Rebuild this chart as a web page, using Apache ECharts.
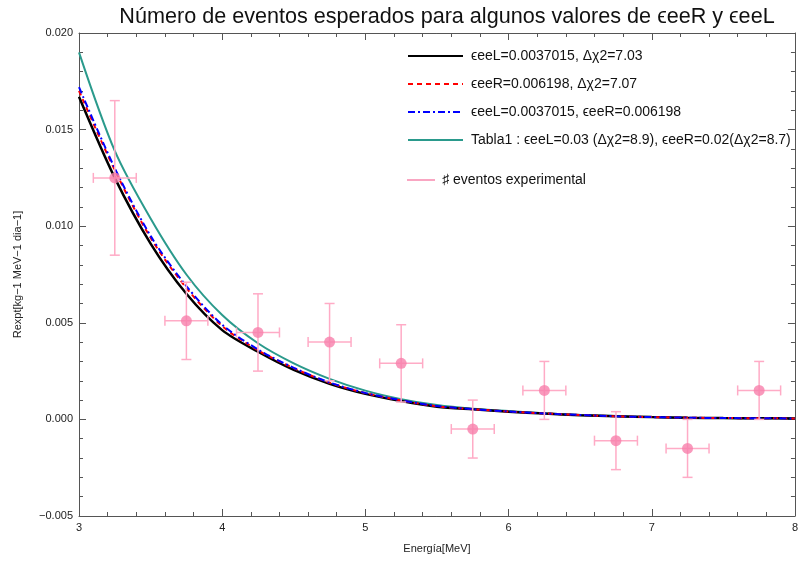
<!DOCTYPE html>
<html><head><meta charset="utf-8">
<script src="https://cdn.jsdelivr.net/npm/echarts@6/dist/echarts.min.js"></script>
<style>html,body{margin:0;padding:0;background:#fff}#c{width:801px;height:562px}</style>
</head><body><div id="c"></div>
<script>
// Energy grid where the curves were read (MeV)
const energies  = [3, 3.25, 3.5, 3.75, 4, 4.25, 4.5, 4.75, 5, 5.25, 5.5, 5.75, 6, 6.25, 6.5, 6.75, 7, 7.25, 7.5, 7.75, 8];
const blackVals = [0.0167, 0.0125, 0.0091, 0.0065, 0.00462, 0.0035, 0.00256, 0.00184, 0.00132, 0.00095, 0.00066, 0.00052, 0.00040, 0.00030, 0.00022, 0.00016, 0.00012, 0.00009, 0.00007, 0.00006, 0.00005];
const redVals   = [0.0170, 0.0129, 0.0094, 0.0068, 0.00483, 0.00358, 0.00265, 0.00190, 0.00136, 0.00098, 0.00068, 0.00053, 0.00041, 0.00031, 0.00023, 0.00016, 0.00012, 0.00009, 0.00007, 0.00006, 0.00005];
const blueVals  = [0.0172, 0.0130, 0.0095, 0.0069, 0.0049, 0.00362, 0.00267, 0.00191, 0.00137, 0.00099, 0.00069, 0.00053, 0.00041, 0.00031, 0.00023, 0.00016, 0.00012, 0.00009, 0.00007, 0.00006, 0.00005];
const tealVals  = [0.0190, 0.0139, 0.0104, 0.0075, 0.0054, 0.00394, 0.0029, 0.0021, 0.00149, 0.00105, 0.00074, 0.00055, 0.00043, 0.00032, 0.00023, 0.00017, 0.00012, 0.00009, 0.00007, 0.00006, 0.00005];

// Experimental points
const expX    = [3.25, 3.75, 4.25, 4.75, 5.25, 5.75, 6.25, 6.75, 7.25, 7.75];
const expY    = [0.0125, 0.0051, 0.0045, 0.0040, 0.0029, -0.0005, 0.0015, -0.0011, -0.0015, 0.0015];
const expYErr = [0.0040, 0.0020, 0.0020, 0.0020, 0.0020, 0.0015, 0.0015, 0.0015, 0.0015, 0.0015];
const expXErr = [0.15, 0.15, 0.15, 0.15, 0.15, 0.15, 0.15, 0.15, 0.15, 0.15];

const seriesNames = [
  'ϵeeL=0.0037015, Δχ2=7.03',
  'ϵeeR=0.006198, Δχ2=7.07',
  'ϵeeL=0.0037015, ϵeeR=0.006198',
  'Tabla1 : ϵeeL=0.03 (Δχ2=8.9), ϵeeR=0.02(Δχ2=8.7)',
  '♯ eventos experimental'
];
const titleText = 'Número de eventos esperados para algunos valores de ϵeeR y ϵeeL';
const xName = 'Energía[MeV]';
const yName = 'Rexpt[kg−1 MeV−1 dia−1]';

const FONT = '"Liberation Sans", Arial, sans-serif';
const pink = '#f77fab';
const pinkLight = '#ffabc6';

const pair = (xs, ys) => xs.map((x, i) => [x, ys[i]]);
const errData = expX.map((x, i) => [x, expY[i], expXErr[i], expYErr[i]]);

function axisCommon() {
  return {
    axisLine: {show: true, onZero: false, lineStyle: {color: '#555', width: 1}},
    axisTick: {show: true, inside: true, length: 7, lineStyle: {color: '#555'}},
    minorTick: {show: true, splitNumber: 5, length: 4, lineStyle: {color: '#555'}},
    splitLine: {show: false}
  };
}

function lineSeries(name, vals, color, width, type, z) {
  return {
    name: name, type: 'line', data: pair(energies, vals), smooth: 0.3,
    symbol: 'none', showSymbol: false, z: z,
    lineStyle: {color: color, width: width, type: type},
    itemStyle: {color: color}
  };
}

const hideSym = {opacity: 0};
const chart = echarts.init(document.getElementById('c'));
chart.setOption({
  animation: false,
  backgroundColor: '#fff',
  title: {
    text: titleText, left: 442, top: 1, textAlign: 'center',
    textStyle: {fontFamily: FONT, fontSize: 21.6, fontWeight: 'normal', color: '#111'}
  },
  grid: {left: 79, right: 1, top: 33, bottom: 46},
  legend: [{
    data: seriesNames.slice(0, 4).map(n => ({name: n, itemStyle: hideSym})),
    orient: 'vertical', left: 407, top: 49, padding: 0, itemWidth: 55, itemHeight: 14, itemGap: 14,
    textStyle: {fontFamily: FONT, fontSize: 14, color: '#111', padding: [0, 0, 0, 3]}
  }, {
    data: [{name: seriesNames[4], icon: 'rect', itemStyle: {color: '#f890b3'}}],
    orient: 'vertical', left: 407, top: 173, padding: 0, itemWidth: 28, itemHeight: 2,
    textStyle: {fontFamily: FONT, fontSize: 14, color: '#111', padding: [0, 0, 0, 2]}
  }],
  xAxis: [
    Object.assign({type: 'value', min: 3, max: 8, interval: 1, position: 'bottom',
      name: xName, nameLocation: 'middle', nameGap: 27,
      nameTextStyle: {fontFamily: FONT, fontSize: 11, color: '#222'},
      axisLabel: {fontFamily: FONT, fontSize: 11, color: '#222', margin: 6}}, axisCommon()),
    Object.assign({type: 'value', min: 3, max: 8, interval: 1, position: 'top',
      axisLabel: {show: false}}, axisCommon())
  ],
  yAxis: [
    Object.assign({type: 'value', min: -0.005, max: 0.02, interval: 0.005, position: 'left',
      name: yName, nameLocation: 'middle', nameGap: 56,
      nameTextStyle: {fontFamily: FONT, fontSize: 11, color: '#222'},
      axisLabel: {fontFamily: FONT, fontSize: 11, color: '#222', margin: 6,
        formatter: v => v.toFixed(3).replace('-', '−')}}, axisCommon()),
    Object.assign({type: 'value', min: -0.005, max: 0.02, interval: 0.005, position: 'right',
      axisLabel: {show: false}}, axisCommon())
  ],
  series: [
    lineSeries(seriesNames[3], tealVals, '#2a9a8c', 2, 'solid', 2),
    lineSeries(seriesNames[0], blackVals, '#000000', 2.5, 'solid', 3),
    lineSeries(seriesNames[1], redVals, '#ff0000', 2, [5, 4], 4),
    lineSeries(seriesNames[2], blueVals, '#0000ff', 2, [7, 3, 2, 3], 5),
    {
      name: 'errbars', type: 'custom', z: 6, data: errData, silent: true,
      renderItem: function (params, api) {
        const x = api.value(0), y = api.value(1), dx = api.value(2), dy = api.value(3);
        const l = api.coord([x - dx, y]), r = api.coord([x + dx, y]);
        const t = api.coord([x, y + dy]), b = api.coord([x, y - dy]);
        const cap = 5;
        const st = {stroke: pinkLight, lineWidth: 1.5, fill: null};
        return {type: 'group', children: [
          {type: 'line', shape: {x1: l[0], y1: l[1], x2: r[0], y2: r[1]}, style: st},
          {type: 'line', shape: {x1: t[0], y1: t[1], x2: b[0], y2: b[1]}, style: st},
          {type: 'line', shape: {x1: l[0], y1: l[1] - cap, x2: l[0], y2: l[1] + cap}, style: st},
          {type: 'line', shape: {x1: r[0], y1: r[1] - cap, x2: r[0], y2: r[1] + cap}, style: st},
          {type: 'line', shape: {x1: t[0] - cap, y1: t[1], x2: t[0] + cap, y2: t[1]}, style: st},
          {type: 'line', shape: {x1: b[0] - cap, y1: b[1], x2: b[0] + cap, y2: b[1]}, style: st}
        ]};
      }
    },
    {
      name: seriesNames[4], type: 'scatter', z: 7, data: pair(expX, expY),
      symbol: 'circle', symbolSize: 11, itemStyle: {color: pink}
    }
  ]
});
</script>
</body></html>
